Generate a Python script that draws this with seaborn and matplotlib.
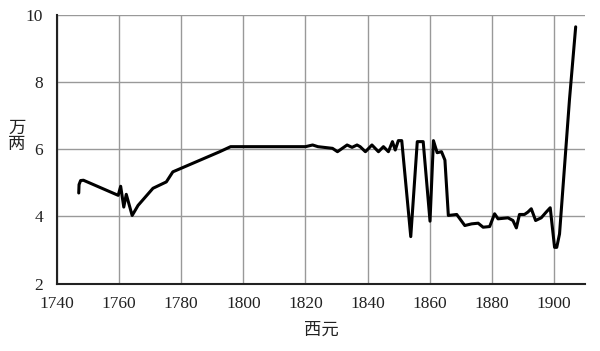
import matplotlib
matplotlib.use("Agg")
import matplotlib.pyplot as plt
import seaborn as sns
import pandas as pd

years = [1747.0, 1747.1, 1747.6, 1748.5, 1759.7, 1760.5, 1761.5, 1762.3, 1764.2,
         1766.1, 1770.9, 1775.2, 1777.3, 1792.4, 1795.9, 1800.0, 1820.0, 1822.3,
         1824.0, 1828.7, 1830.3, 1833.4, 1835.0, 1836.6, 1837.6, 1839.3, 1841.4,
         1843.5, 1845.1, 1846.7, 1848.0, 1848.9, 1849.9, 1851.0, 1853.9, 1856.0,
         1857.9, 1860.1, 1861.2, 1862.4, 1863.8, 1864.9, 1866.0, 1868.7, 1871.3,
         1873.5, 1875.6, 1877.2, 1879.3, 1880.9, 1882.0, 1885.2, 1886.8, 1887.9,
         1888.9, 1890.5, 1891.6, 1892.7, 1894.1, 1895.9, 1897.5, 1898.8, 1900.2,
         1900.9, 1901.8, 1905.0, 1907.0]
values = [4.70, 4.95, 5.07, 5.08, 4.63, 4.90, 4.28, 4.66, 4.03,
          4.33, 4.84, 5.03, 5.33, 5.93, 6.08, 6.08, 6.08, 6.13,
          6.08, 6.03, 5.93, 6.13, 6.06, 6.13, 6.08, 5.93, 6.13,
          5.93, 6.08, 5.93, 6.23, 5.98, 6.26, 6.26, 3.40, 6.23,
          6.23, 3.86, 6.26, 5.90, 5.93, 5.68, 4.03, 4.06, 3.73,
          3.78, 3.80, 3.68, 3.70, 4.08, 3.93, 3.96, 3.88, 3.66,
          4.06, 4.06, 4.13, 4.23, 3.88, 3.96, 4.13, 4.26, 3.08,
          3.08, 3.48, 7.48, 9.65]
xticks = [1740, 1760, 1780, 1800, 1820, 1840, 1860, 1880, 1900]
yticks = [2, 4, 6, 8, 10]
xlabel = "西元"
ylabel = "万\n两"

df = pd.DataFrame({"year": years, "value": values})

sns.set_style("white")
fam = ["Liberation Serif", "Noto Sans CJK SC", "DejaVu Sans"]
plt.rcParams["font.family"] = fam

fig = plt.figure(figsize=(6, 3.51), dpi=100)
ax = fig.add_axes([0.095, 0.192, 0.88, 0.765])
sns.lineplot(data=df, x="year", y="value", ax=ax, color="black",
             linewidth=2.2, estimator=None, sort=False)

ax.set_xlim(1740, 1910)
ax.set_ylim(2, 10)
ax.set_xticks(xticks)
ax.set_yticks(yticks)
ax.set_xticklabels([str(t) for t in xticks], fontsize=12.5)
ax.set_yticklabels([str(t) for t in yticks], fontsize=12.5)
ax.grid(True, color="#999999", linewidth=1.0)
ax.set_axisbelow(True)
for s in ["top", "right"]:
    ax.spines[s].set_visible(False)
for s in ["left", "bottom"]:
    ax.spines[s].set_color("#222222")
    ax.spines[s].set_linewidth(1.5)
ax.tick_params(axis="both", length=0, colors="#222222")
ax.tick_params(axis="x", pad=9)
ax.tick_params(axis="y", pad=10)
ax.set_xlabel(xlabel, fontsize=12.5, labelpad=8, color="#222222")
ax.set_ylabel(ylabel, fontsize=12.5, rotation=0, color="#222222",
              linespacing=1.05, va="center", ha="center")
ax.yaxis.set_label_coords(-0.076, 0.546)

fig.savefig("out.png", dpi=100)
